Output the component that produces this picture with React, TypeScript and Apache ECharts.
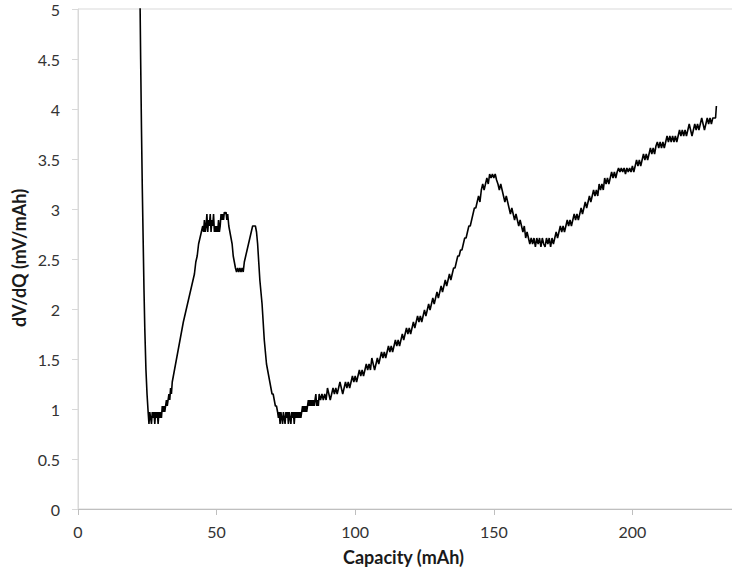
import React, { useEffect, useRef } from "react";
import * as echarts from "echarts";

const xTitle = "Capacity (mAh)";
const yTitle = "dV/dQ (mV/mAh)";

// [capacity (mAh), dV/dQ (mV/mAh)], segment by segment
const initialDrop: [number, number][] = [
  [22.3, 5.3], [22.6, 4.5], [22.9, 3.8], [23.2, 3.2], [23.5, 2.7], [23.8, 2.2],
  [24.1, 1.8], [24.5, 1.4], [24.9, 1.15], [25.3, 0.97],
];
const firstValley: [number, number][] = [
  [25.6, 0.85], [25.9, 0.97], [26.2, 0.91], [26.5, 0.85], [26.8, 0.97], [27.1, 0.91],
  [27.4, 0.97], [27.7, 0.85], [28.0, 0.97], [28.3, 0.91], [28.6, 0.97], [28.9, 0.85],
  [29.2, 0.97], [29.5, 0.91], [29.8, 0.97], [30.1, 0.91], [30.4, 1.03], [30.7, 0.97],
  [31.0, 1.03], [31.3, 0.97], [31.6, 1.03], [31.9, 1.09], [32.2, 1.03], [32.5, 1.09],
  [32.8, 1.15], [33.1, 1.09], [33.4, 1.21], [33.7, 1.15], [34.0, 1.27],
];
const firstRise: [number, number][] = [
  [34.4, 1.33], [34.8, 1.39], [35.2, 1.45], [35.6, 1.51], [36.0, 1.57], [36.4, 1.63],
  [36.8, 1.69], [37.2, 1.75], [37.6, 1.81], [38.0, 1.87], [38.5, 1.93], [39.0, 1.99],
  [39.5, 2.05], [40.0, 2.11], [40.5, 2.17], [41.0, 2.23], [41.5, 2.29], [42.0, 2.35],
  [42.5, 2.47], [43.0, 2.53], [43.5, 2.65], [44.0, 2.71], [44.5, 2.77], [45.0, 2.83],
];
const doublePeak: [number, number][] = [
  [45.3, 2.77], [45.6, 2.89], [45.9, 2.77], [46.2, 2.83], [46.5, 2.95], [46.8, 2.77],
  [47.1, 2.89], [47.4, 2.83], [47.7, 2.95], [48.0, 2.77], [48.3, 2.89], [48.6, 2.83],
  [48.9, 2.95], [49.2, 2.77], [49.5, 2.83], [49.8, 2.77], [50.1, 2.83], [50.4, 2.77],
  [50.7, 2.89], [51.0, 2.77], [51.3, 2.83], [51.6, 2.95], [51.9, 2.89], [52.2, 2.95],
  [52.5, 2.89], [52.8, 2.97], [53.1, 2.95], [53.4, 2.97], [53.7, 2.89], [54.0, 2.95],
  [54.4, 2.83], [54.8, 2.77], [55.2, 2.71], [55.6, 2.65], [56.0, 2.53], [56.4, 2.47],
  [56.8, 2.41], [57.2, 2.37], [57.6, 2.41], [58.0, 2.37], [58.4, 2.41], [58.8, 2.37],
  [59.2, 2.41], [59.6, 2.37], [60.0, 2.47], [60.5, 2.53], [61.0, 2.59], [61.5, 2.65],
  [62.0, 2.71], [62.5, 2.77], [63.0, 2.83], [63.5, 2.83], [64.0, 2.83], [64.4, 2.77],
  [64.8, 2.65], [65.2, 2.47], [65.6, 2.29], [66.0, 2.17], [66.4, 2.05], [66.8, 1.87],
  [67.2, 1.69], [67.6, 1.57], [68.0, 1.45], [68.4, 1.39], [68.8, 1.33], [69.2, 1.27],
  [69.6, 1.21], [70.0, 1.15], [70.4, 1.15], [70.8, 1.09], [71.2, 1.03], [71.6, 1.03],
  [72.0, 0.97],
];
const secondValley: [number, number][] = [
  [72.3, 0.91], [72.6, 0.97], [72.9, 0.85], [73.2, 0.97], [73.5, 0.91], [73.8, 0.85],
  [74.1, 0.97], [74.4, 0.91], [74.7, 0.85], [75.0, 0.97], [75.3, 0.91], [75.6, 0.97],
  [75.9, 0.85], [76.2, 0.97], [76.5, 0.91], [76.8, 0.85], [77.1, 0.97], [77.4, 0.91],
  [77.7, 0.97], [78.0, 0.85], [78.3, 0.97], [78.6, 0.91], [78.9, 0.97], [79.2, 0.91],
  [79.5, 0.97], [79.8, 0.91], [80.1, 0.97], [80.4, 0.91], [80.7, 0.97], [81.0, 1.03],
  [81.3, 0.97], [81.6, 1.03], [81.9, 0.97], [82.2, 1.03], [82.5, 0.97], [82.8, 1.03],
  [83.1, 1.09], [83.4, 1.03], [83.7, 1.09], [84.0, 1.03], [84.3, 1.09], [84.6, 1.03],
  [84.9, 1.09], [85.2, 1.03], [85.5, 1.09], [85.8, 1.15], [86.1, 1.03], [86.4, 1.09],
  [86.7, 1.03], [87.0, 1.15],
];
const slowRise: [number, number][] = [
  [87.5, 1.09], [88.0, 1.15], [88.5, 1.09], [89.0, 1.15], [89.5, 1.09], [90.0, 1.21],
  [90.5, 1.15], [91.0, 1.09], [91.5, 1.15], [92.0, 1.21], [92.5, 1.15], [93.0, 1.21],
  [93.5, 1.15], [94.0, 1.21], [94.5, 1.27], [95.0, 1.21], [95.5, 1.15], [96.0, 1.21],
  [96.5, 1.27], [97.0, 1.21], [97.5, 1.27], [98.0, 1.21], [98.5, 1.27], [99.0, 1.33],
  [99.5, 1.27], [100.0, 1.33], [100.5, 1.27], [101.0, 1.33], [101.5, 1.39], [102.0, 1.33],
  [102.5, 1.39], [103.0, 1.33], [103.5, 1.39], [104.0, 1.45], [104.5, 1.39], [105.0, 1.45],
  [105.5, 1.39], [106.0, 1.51], [106.5, 1.45], [107.0, 1.39], [107.5, 1.45], [108.0, 1.51],
  [108.5, 1.45], [109.0, 1.51], [109.5, 1.57], [110.0, 1.51], [110.5, 1.57], [111.0, 1.51],
  [111.5, 1.57], [112.0, 1.63], [112.5, 1.57], [113.0, 1.63], [113.5, 1.57], [114.0, 1.63],
  [114.5, 1.69], [115.0, 1.63], [115.5, 1.69], [116.0, 1.63], [116.5, 1.69], [117.0, 1.75],
  [117.5, 1.69], [118.0, 1.75], [118.5, 1.81], [119.0, 1.75], [119.5, 1.81], [120.0, 1.75],
  [120.5, 1.81], [121.0, 1.87], [121.5, 1.81], [122.0, 1.87], [122.5, 1.93], [123.0, 1.87],
  [123.5, 1.93], [124.0, 1.87], [124.5, 1.93], [125.0, 1.99], [125.5, 1.93], [126.0, 1.99],
  [126.5, 2.05], [127.0, 1.99], [127.5, 2.05], [128.0, 2.11], [128.5, 2.05], [129.0, 2.11],
  [129.5, 2.17], [130.0, 2.11], [130.5, 2.17], [131.0, 2.23], [131.5, 2.17], [132.0, 2.23],
  [132.5, 2.29], [133.0, 2.23], [133.5, 2.29], [134.0, 2.35], [134.5, 2.29], [135.0, 2.35],
];
const thirdPeak: [number, number][] = [
  [135.5, 2.41], [136.0, 2.41], [136.5, 2.47], [137.0, 2.53], [137.5, 2.53], [138.0, 2.59],
  [138.5, 2.59], [139.0, 2.65], [139.5, 2.71], [140.0, 2.71], [140.5, 2.77], [141.0, 2.83],
  [141.5, 2.83], [142.0, 2.89], [142.5, 2.95], [143.0, 3.01], [143.5, 3.01], [144.0, 3.07],
  [144.5, 3.13], [145.0, 3.07], [145.5, 3.19], [146.0, 3.25], [146.5, 3.19], [147.0, 3.25],
  [147.5, 3.31], [148.0, 3.25], [148.5, 3.35], [149.0, 3.31], [149.5, 3.35], [150.0, 3.31],
  [150.5, 3.35], [151.0, 3.29], [151.5, 3.25], [152.0, 3.19], [152.5, 3.25], [153.0, 3.19],
  [153.5, 3.13], [154.0, 3.07], [154.5, 3.13], [155.0, 3.07], [155.5, 3.01], [156.0, 2.95],
  [156.5, 3.01], [157.0, 2.95], [157.5, 2.89], [158.0, 2.95], [158.5, 2.89], [159.0, 2.83],
  [159.5, 2.89], [160.0, 2.83], [160.5, 2.77], [161.0, 2.83], [161.5, 2.71], [162.0, 2.77],
  [162.5, 2.71], [163.0, 2.65], [163.5, 2.71],
];
const thirdValley: [number, number][] = [
  [164.0, 2.65], [164.5, 2.71], [165.0, 2.62], [165.5, 2.71], [166.0, 2.65], [166.5, 2.71],
  [167.0, 2.62], [167.5, 2.71], [168.0, 2.65], [168.5, 2.62], [169.0, 2.71], [169.5, 2.65],
  [170.0, 2.71], [170.5, 2.62], [171.0, 2.71], [171.5, 2.65], [172.0, 2.71], [172.5, 2.77],
  [173.0, 2.71], [173.5, 2.77],
];
const finalRise: [number, number][] = [
  [174.0, 2.83], [174.5, 2.77], [175.0, 2.83], [175.5, 2.77], [176.0, 2.83], [176.5, 2.89],
  [177.0, 2.83], [177.5, 2.89], [178.0, 2.83], [178.5, 2.89], [179.0, 2.95], [179.5, 2.89],
  [180.0, 2.95], [180.5, 2.89], [181.0, 2.95], [181.5, 3.01], [182.0, 2.95], [182.5, 3.01],
  [183.0, 3.07], [183.5, 3.01], [184.0, 3.07], [184.5, 3.13], [185.0, 3.07], [185.5, 3.13],
  [186.0, 3.19], [186.5, 3.13], [187.0, 3.19], [187.5, 3.13], [188.0, 3.25], [188.5, 3.19],
  [189.0, 3.25], [189.5, 3.19], [190.0, 3.31], [190.5, 3.25], [191.0, 3.31], [191.5, 3.25],
  [192.0, 3.31], [192.5, 3.37], [193.0, 3.31], [193.5, 3.37], [194.0, 3.31], [194.5, 3.37],
  [195.0, 3.41], [195.5, 3.37], [196.0, 3.41], [196.5, 3.37], [197.0, 3.41], [197.5, 3.35],
  [198.0, 3.41], [198.5, 3.37], [199.0, 3.41], [199.5, 3.37], [200.0, 3.43], [200.5, 3.37],
  [201.0, 3.43], [201.5, 3.49], [202.0, 3.43], [202.5, 3.49], [203.0, 3.43], [203.5, 3.49],
  [204.0, 3.55], [204.5, 3.49], [205.0, 3.55], [205.5, 3.49], [206.0, 3.55], [206.5, 3.61],
  [207.0, 3.55], [207.5, 3.61], [208.0, 3.55], [208.5, 3.63], [209.0, 3.67], [209.5, 3.61],
  [210.0, 3.67], [210.5, 3.61], [211.0, 3.67], [211.5, 3.61], [212.0, 3.67], [212.5, 3.73],
  [213.0, 3.67], [213.5, 3.73], [214.0, 3.67], [214.5, 3.73], [215.0, 3.67], [215.5, 3.73],
  [216.0, 3.67], [216.5, 3.73], [217.0, 3.79], [217.5, 3.73], [218.0, 3.79], [218.5, 3.73],
  [219.0, 3.79], [219.5, 3.73], [220.0, 3.79], [220.5, 3.85], [221.0, 3.79], [221.5, 3.73],
  [222.0, 3.79], [222.5, 3.85], [223.0, 3.79], [223.5, 3.85], [224.0, 3.79], [224.5, 3.85],
  [225.0, 3.91], [225.5, 3.85], [226.0, 3.79], [226.5, 3.85], [227.0, 3.91], [227.5, 3.85],
  [228.0, 3.91], [228.5, 3.85], [229.0, 3.91], [229.5, 3.91], [230.0, 3.91], [230.3, 4.03],
];

const curve = [
  ...initialDrop, ...firstValley, ...firstRise, ...doublePeak, ...secondValley,
  ...slowRise, ...thirdPeak, ...thirdValley, ...finalRise,
];

const FONT = "Lato, 'Open Sans', sans-serif";

export default function App() {
  const ref = useRef<HTMLDivElement>(null);
  useEffect(() => {
    if (!ref.current) return;
    const chart = echarts.init(ref.current, undefined, { renderer: "svg" });
    chart.setOption({
      animation: false,
      backgroundColor: "#ffffff",
      grid: {
        left: 78,
        right: 29,
        top: 9,
        bottom: 64,
        show: true,
        borderColor: "#d9d9d9",
        borderWidth: 1,
        backgroundColor: "transparent",
      },
      xAxis: {
        type: "value",
        min: 0,
        max: 250,
        interval: 50,
        axisLine: { show: true, lineStyle: { color: "#bfbfbf", width: 1 } },
        axisTick: { show: true, inside: false, length: 6, lineStyle: { color: "#bfbfbf" } },
        splitLine: { show: false },
        axisLabel: {
          color: "#333333",
          fontSize: 16,
          fontFamily: FONT,
          margin: 14,
          showMaxLabel: false,
        },
      },
      yAxis: {
        type: "value",
        min: 0,
        max: 5,
        interval: 0.5,
        axisLine: { show: true, lineStyle: { color: "#d9d9d9", width: 1 } },
        axisTick: { show: true, inside: false, length: 6, lineStyle: { color: "#d9d9d9" } },
        splitLine: { show: false },
        axisLabel: { color: "#333333", fontSize: 16, fontFamily: FONT, margin: 18 },
      },
      graphic: [
        {
          type: "text",
          left: 410 - 67,
          top: 548,
          style: { text: xTitle, fill: "#1a1a1a", font: `bold 18px ${FONT}` },
        },
        {
          type: "text",
          x: 19,
          y: 258,
          rotation: Math.PI / 2,
          style: {
            text: yTitle,
            fill: "#1a1a1a",
            font: `bold 18px ${FONT}`,
            align: "center",
            verticalAlign: "middle",
          },
        },
      ],
      series: [
        {
          type: "line",
          data: curve,
          showSymbol: false,
          symbol: "none",
          clip: true,
          lineStyle: { color: "#000000", width: 1.6 },
        },
      ],
    });
    return () => chart.dispose();
  }, []);
  return (
    <div
      style={{
        position: "absolute",
        left: 0,
        top: 0,
        width: 732,
        height: 573,
        overflow: "hidden",
      }}
    >
      <div ref={ref} style={{ width: 800, height: 573 }} />
    </div>
  );
}
